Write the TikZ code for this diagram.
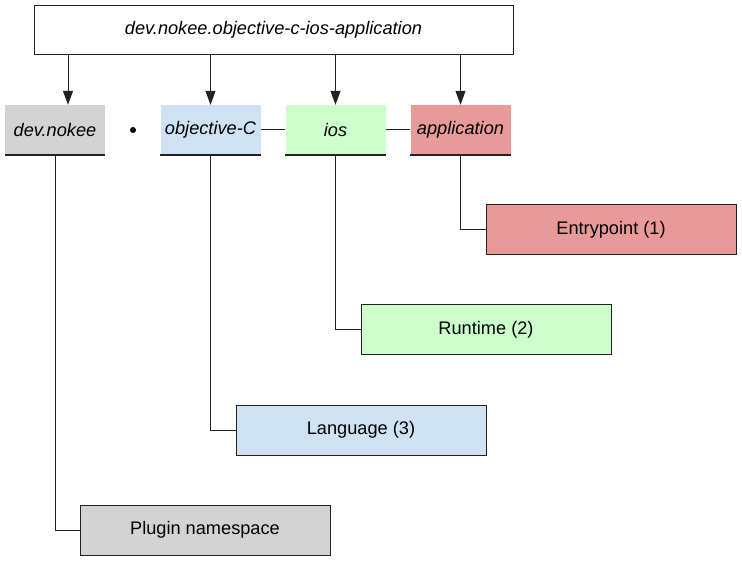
\documentclass[tikz,border=0pt]{standalone}
\usepackage{fontspec}
\setmainfont{Liberation Sans}
\usetikzlibrary{arrows.meta}
\definecolor{GREY}{HTML}{D3D3D3}
\definecolor{BLUE}{HTML}{CFE2F3}
\definecolor{GREEN}{HTML}{CCFFCC}
\definecolor{RED}{HTML}{EA9999}
\definecolor{LINE}{HTML}{222222}
\tikzset{
    part/.style={minimum width=100pt, minimum height=50pt, inner sep=0pt, font=\fontsize{18.2}{20}\selectfont\itshape},
    meaning/.style={draw=LINE, line width=1pt, minimum width=250pt, minimum height=50pt, inner sep=0pt, font=\fontsize{18.2}{20}\selectfont},
    link/.style={LINE, line width=1pt},
    split/.style={LINE, line width=1pt, -{Triangle[length=14pt, width=10pt]}}
}

\begin{document}
\begin{tikzpicture}[x=1pt, y=-1pt]
    \useasboundingbox (0,0) rectangle (742,561);
    \node[draw=LINE, line width=1pt, minimum width=479pt, minimum height=49pt, inner sep=0pt, font=\fontsize{18.2}{20}\selectfont\itshape] (plugin) at (273.5,30) {dev.nokee.objective-c-ios-application};
    \node[part, fill=GREY] (nokee) at (55,130) {dev.nokee};
    \node[part, fill=BLUE] (objc) at (210.5,130) {objective-C};
    \node[part, fill=GREEN] (ios) at (335.5,130) {ios};
    \node[part, fill=RED] (app) at (460.5,130) {application};
    \draw[LINE, line width=1.5pt] (nokee.south west) -- (nokee.south east);
    \draw[LINE, line width=1.5pt] (objc.south west) -- (objc.south east);
    \draw[LINE, line width=1.5pt] (ios.south west) -- (ios.south east);
    \draw[LINE, line width=1.5pt] (app.south west) -- (app.south east);
    \fill[black] (133,130) circle (3pt);
    \draw[link] (objc) -- (ios);
    \draw[link] (ios) -- (app);
    % arrows from the plugin id
    \draw[split] (plugin.south -| 68,0) -- (nokee.north -| 68,0);
    \draw[split] (plugin.south -| objc.north) -- (objc.north);
    \draw[split] (plugin.south -| ios.north) -- (ios.north);
    \draw[split] (plugin.south -| app.north) -- (app.north);
    % meanings
    \node[meaning, fill=RED] (entry) at (611,230) {Entrypoint (1)};
    \node[meaning, fill=GREEN] (runtime) at (486,330) {Runtime (2)};
    \node[meaning, fill=BLUE] (lang) at (361,430) {Language (3)};
    \node[meaning, fill=GREY] (ns) at (205,530) {Plugin namespace};
    \draw[link] (app.south) |- (entry.west);
    \draw[link] (ios.south) |- (runtime.west);
    \draw[link] (objc.south) |- (lang.west);
    \draw[link] (nokee.south) |- (ns.west);
\end{tikzpicture}
\end{document}
